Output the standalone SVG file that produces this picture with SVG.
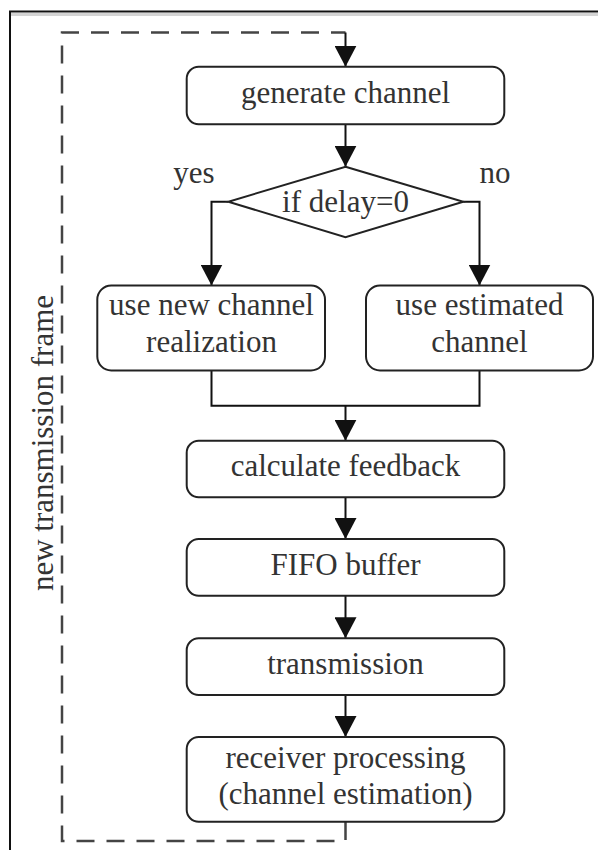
<svg xmlns="http://www.w3.org/2000/svg" width="598" height="850" viewBox="0 0 598 850">
<defs>
<marker id="arr" markerUnits="userSpaceOnUse" markerWidth="22" markerHeight="22" refX="21" refY="11" orient="auto">
<path d="M0,0 L21,11 L0,22 z" fill="#111"/>
</marker>
<style>
.box{fill:#fff;stroke:#222;stroke-width:2}
.t{font-family:"Liberation Serif","Times New Roman",serif;font-size:31px;fill:#333;text-anchor:middle}
.ln{fill:none;stroke:#111;stroke-width:2}
.ar{fill:none;stroke:#111;stroke-width:2;marker-end:url(#arr)}
.dash{fill:none;stroke:#444;stroke-width:2.5;stroke-dasharray:18 12}
</style>
</defs>
<rect width="598" height="850" fill="#fff"/>
<g id="frame">
<line x1="11" y1="14.5" x2="598" y2="14.5" stroke="#d4d4d4" stroke-width="3"/>
<path d="M10,850 V11.5 H598" fill="none" stroke="#111" stroke-width="2"/>
</g>
<g id="connectors">
<path class="dash" d="M345.5,822 V841 H62 V32.5 H345.5"/>
<path class="ar" d="M345.5,32.5 V66.7"/>
<path class="ar" d="M345.5,124.3 V166.7"/>
<path class="ar" d="M228.3,201.7 H211.5 V285.5"/>
<path class="ar" d="M463.3,201.7 H479.5 V285.5"/>
<path class="ln" d="M211.5,370.5 V405.7 H479.5 V370.5"/>
<path class="ar" d="M345.5,405.7 V440.7"/>
<path class="ar" d="M345.5,497.3 V539"/>
<path class="ar" d="M345.5,595.7 V638.3"/>
<path class="ar" d="M345.5,695 V737"/>
</g>
<g id="loop-label">
<text class="t" transform="translate(53,443) rotate(-90)">new transmission frame</text>
</g>
<g id="generate">
<rect class="box" x="186.7" y="66.7" width="317.6" height="57.6" rx="12"/>
<text class="t" x="345.5" y="103">generate channel</text>
</g>
<g id="decision">
<polygon class="box" points="345.5,166.7 463.3,201.7 345.5,237.3 228.3,201.7"/>
<text class="t" x="345.5" y="211.7">if delay=0</text>
<text class="t" x="194" y="183">yes</text>
<text class="t" x="495" y="183">no</text>
</g>
<g id="new-channel">
<rect class="box" x="97.3" y="285.5" width="227.7" height="85" rx="14"/>
<text class="t" x="211.5" y="315">use new channel</text>
<text class="t" x="211.5" y="352">realization</text>
</g>
<g id="estimated">
<rect class="box" x="366" y="285.5" width="227" height="85" rx="14"/>
<text class="t" x="479.5" y="315">use estimated</text>
<text class="t" x="479.5" y="352">channel</text>
</g>
<g id="feedback">
<rect class="box" x="186.7" y="440.7" width="317.6" height="56.6" rx="12"/>
<text class="t" x="345.5" y="476">calculate feedback</text>
</g>
<g id="fifo">
<rect class="box" x="186.7" y="539" width="317.6" height="56.7" rx="12"/>
<text class="t" x="345.5" y="575">FIFO buffer</text>
</g>
<g id="transmission">
<rect class="box" x="186.7" y="638.3" width="317.6" height="56.7" rx="12"/>
<text class="t" x="345.5" y="674">transmission</text>
</g>
<g id="receiver">
<rect class="box" x="186.7" y="737" width="317.6" height="84.7" rx="12"/>
<text class="t" x="345.5" y="767.7">receiver processing</text>
<text class="t" x="345.5" y="804">(channel estimation)</text>
</g>
</svg>
